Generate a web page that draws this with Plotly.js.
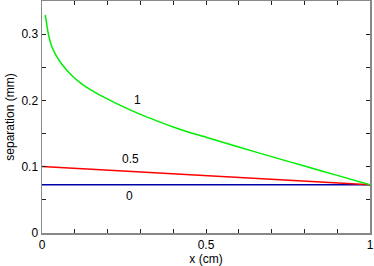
<!DOCTYPE html>
<html><head><meta charset="utf-8">
<script src="https://cdn.plot.ly/plotly-3.0.1.min.js"></script>
<style>html,body{margin:0;padding:0;background:#fff}#chart{width:374px;height:266px}</style>
</head><body><div id="chart"></div>
<script>
var xGreen = [0.01, 0.02, 0.03, 0.045, 0.06, 0.09, 0.12, 0.15, 0.19, 0.25, 0.3, 0.35, 0.4, 0.45, 0.5, 0.6, 0.7, 0.8, 0.9, 1.0];
var yGreen = [0.329, 0.2985, 0.281, 0.266, 0.255, 0.238, 0.2255, 0.2155, 0.2045, 0.1898, 0.1789, 0.1691, 0.1599, 0.1516, 0.1445, 0.1297, 0.1152, 0.1010, 0.0869, 0.0728];
var xRed = [0, 0.25, 0.5, 0.75, 1.0];
var yRed = [0.1005, 0.0936, 0.0867, 0.0797, 0.0728];
var xBlue = [0, 1.0];
var yBlue = [0.0727, 0.0727];
var labelText = ['1', '0.5', '0'];
var labelX = [0.29, 0.27, 0.268];
var labelY = [0.2008, 0.1116, 0.0553];
var xTicks = [0, 0.5, 1];
var xTickText = ['0', '0.5', '1'];
var yTicks = [0, 0.1, 0.2, 0.3];
var yTickText = ['0', '0.1', '0.2', '0.3'];

var font = {family: 'Liberation Sans, Arial, sans-serif', size: 12, color: '#000'};
var traces = [
  {x: xBlue, y: yBlue, mode: 'lines', line: {color: '#0000a8', width: 1.5}},
  {x: xRed, y: yRed, mode: 'lines', line: {color: '#ff0000', width: 1.5}},
  {x: xGreen, y: yGreen, mode: 'lines', line: {color: '#00ee00', width: 1.5, shape: 'spline', smoothing: 0.6}}
];
var annotations = labelText.map(function(t, i){
  return {x: labelX[i], y: labelY[i], xref: 'x', yref: 'y', text: t, showarrow: false, font: font};
});
var axisCommon = {
  showgrid: false, zeroline: false, showline: true, linecolor: '#888', linewidth: 1.5,
  mirror: 'ticks', ticks: 'inside', ticklen: 4, tickcolor: '#222', tickwidth: 1,
  tickfont: font, tickmode: 'array'
};
var layout = {
  width: 374, height: 266,
  margin: {l: 42, r: 4, t: 1, b: 33},
  paper_bgcolor: '#fff', plot_bgcolor: '#fff',
  showlegend: false,
  font: font,
  xaxis: Object.assign({}, axisCommon, {
    range: [0, 1], tickvals: xTicks, ticktext: xTickText,
    minor: {dtick: 0.1, tick0: 0, ticks: 'inside', ticklen: 4, tickcolor: '#222'},
    title: {text: 'x (cm)', font: font, standoff: 2}
  }),
  yaxis: Object.assign({}, axisCommon, {
    range: [0, 0.35], tickvals: yTicks, ticktext: yTickText,
    minor: {dtick: 0.05, tick0: 0, ticks: 'inside', ticklen: 4, tickcolor: '#222'},
    title: {text: 'separation (mm)', font: font, standoff: 4}
  }),
  annotations: annotations
};
Plotly.newPlot('chart', traces, layout, {staticPlot: true, displayModeBar: false});
</script></body></html>
